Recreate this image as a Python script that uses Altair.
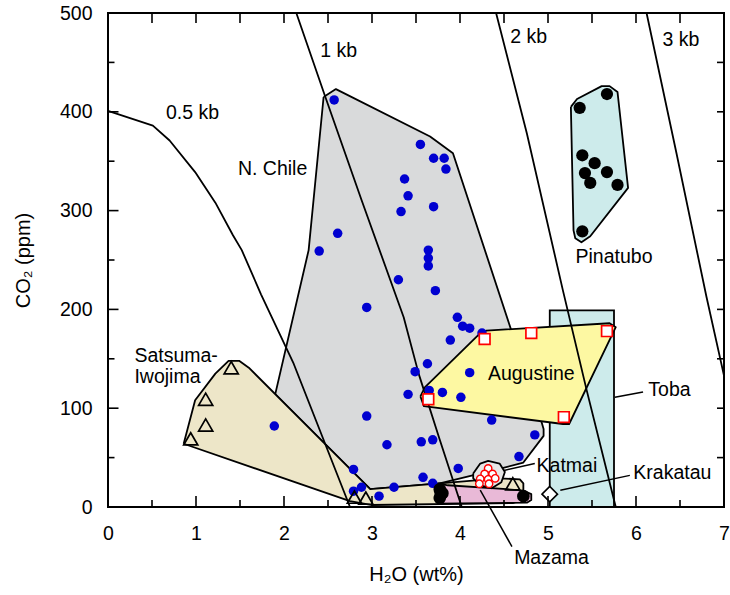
import altair as alt
import pandas as pd

FONT = "Liberation Sans"
W, H = 616, 494

# ---- isobars (H2O wt%, CO2 ppm) ----
iso_05kb = [(0.00, 401), (0.51, 386), (0.70, 371), (0.99, 339), (1.22, 308), (1.42, 275),
            (1.52, 260), (1.74, 215), (2.11, 145), (2.75, 0)]
iso_1kb = [(2.14, 500), (2.47, 415), (2.88, 311), (3.36, 192), (3.53, 135), (3.77, 68), (4.02, 0)]
iso_2kb = [(4.41, 500), (4.76, 378), (5.17, 219), (5.44, 118), (5.77, 0)]
iso_3kb = [(6.12, 500), (6.46, 358), (6.80, 213), (7.00, 133)]

# ---- field outlines ----
chile_poly = [(2.45, 415), (2.59, 423), (3.66, 375), (3.92, 358), (4.93, 85), (4.95, 79),
              (4.95, 72), (4.72, 45), (4.47, 39), (3.77, 24), (2.98, 18), (1.90, 114), (2.28, 260)]
satsuma_poly = [(0.86, 64), (0.99, 108), (1.22, 135), (1.37, 148), (1.49, 148), (1.60, 141),
                (2.98, 18), (3.77, 24), (4.45, 29), (4.68, 28), (4.72, 24), (4.72, 8),
                (4.60, 4), (3.00, 2), (2.75, 6)]
mazama_poly = [(3.72, 20), (3.76, 24), (3.86, 22), (4.53, 18), (4.72, 16.5), (4.81, 13),
               (4.81, 7), (4.76, 4.4), (3.75, 3.4), (3.72, 8.5)]
augustine_poly = [(3.55, 112), (3.60, 121), (4.23, 176), (4.30, 178.5), (5.70, 186), (5.77, 182),
                  (5.24, 84), (5.17, 84), (3.59, 102)]
katmai_poly = [(4.15, 34), (4.23, 44), (4.32, 46.6), (4.45, 44), (4.51, 35.5), (4.47, 25),
               (4.36, 19), (4.23, 22), (4.15, 29)]
pinatubo_poly = [(5.26, 405), (5.33, 413), (5.61, 426), (5.70, 426), (5.79, 420), (5.91, 323),
                 (5.48, 274), (5.38, 268), (5.31, 272), (5.29, 280)]
toba_box = {"x": 5.02, "x2": 5.75, "y": 0, "y2": 199}

# ---- samples ----
chile_pts = [(2.57, 412), (3.55, 367), (3.70, 353), (3.82, 353), (3.84, 342), (3.37, 332),
             (3.41, 315), (3.33, 299), (3.70, 304), (2.61, 277), (2.40, 259), (3.30, 230),
             (2.94, 202), (3.64, 260), (3.64, 252), (3.64, 244), (3.72, 219), (3.97, 192),
             (4.03, 183), (4.11, 181), (4.25, 176), (3.89, 169), (3.63, 145), (3.49, 137),
             (4.11, 136), (3.65, 118), (3.80, 116), (3.41, 114), (4.01, 111), (4.36, 88),
             (4.85, 73), (3.56, 66), (3.69, 68), (4.67, 51), (2.94, 92), (1.89, 82),
             (3.17, 63), (2.79, 38), (2.88, 20), (2.79, 16), (3.25, 20), (3.08, 11),
             (3.98, 39), (3.58, 30), (3.69, 24)]
pinatubo_pts = [(5.36, 404), (5.67, 418), (5.39, 356), (5.53, 348), (5.42, 338), (5.48, 328),
                (5.67, 339), (5.79, 326), (5.39, 279)]
mazama_pts = [(3.77, 18), (3.80, 14), (3.77, 9), (4.72, 11)]
satsuma_pts = [(1.40, 141), (1.11, 109), (1.11, 83), (0.94, 69), (2.80, 10), (2.93, 9), (4.60, 23.5)]
augustine_pts = [(3.64, 109), (4.28, 170), (4.81, 176), (5.67, 178), (5.18, 91)]
katmai_pts = [(4.32, 39), (4.28, 33.5), (4.37, 33.5), (4.23, 28.5), (4.32, 28), (4.40, 29),
              (4.22, 23.5), (4.33, 23.5)]
krakatau_pts = [(5.02, 13)]

# ---- leader lines ----
leaders = {
    "Toba": [(5.76, 111), (6.08, 116.5)],
    "Katmai": [(4.50, 37), (4.85, 44)],
    "Krakatau": [(5.14, 17), (5.93, 32)],
    "Mazama": [(4.23, 17), (4.59, -40)],
}

# ---- labels ----
labels_center = [("0.5 kb", 0.96, 399), ("1 kb", 2.62, 462), ("2 kb", 4.78, 476),
                 ("3 kb", 6.51, 473), ("N. Chile", 1.87, 342), ("Pinatubo", 5.75, 253),
                 ("Augustine", 4.81, 135), ("Mazama", 5.04, -52)]
labels_left = [("Satsuma-", 0.30, 153), ("Iwojima", 0.30, 132), ("Toba", 6.14, 118),
               ("Katmai", 4.87, 42), ("Krakatau", 5.97, 34)]

# ---- axis ticks ----
x_major = [0, 1, 2, 3, 4, 5, 6, 7]
x_minor = [0.5, 1.5, 2.5, 3.5, 4.5, 5.5, 6.5]
y_major = [0, 100, 200, 300, 400, 500]
y_minor = [50, 150, 250, 350, 450]

FS = 19.5
LW = 1.8

xscale = alt.Scale(domain=[0, 7], nice=False, zero=False)
yscale = alt.Scale(domain=[0, 500], nice=False, zero=False)
xaxis = alt.Axis(values=x_major, title="H₂O (wt%)", grid=False, ticks=False, tickSize=0,
                 domain=False, labelPadding=17, labelFontSize=FS, labelFont=FONT,
                 labelColor="black", titleFontSize=20, titleFont=FONT, titleFontWeight="normal",
                 titleColor="black", titlePadding=22, labelFlush=False)
yaxis = alt.Axis(values=y_major, title="CO₂ (ppm)", grid=False, ticks=False, tickSize=0,
                 domain=False, labelPadding=16, labelFontSize=FS, labelFont=FONT,
                 labelColor="black", titleFontSize=20, titleFont=FONT, titleFontWeight="normal",
                 titleColor="black", titlePadding=26, labelFlush=False)


def X(field="x"):
    return alt.X(field, type="quantitative", scale=xscale, axis=xaxis)


def Y(field="y"):
    return alt.Y(field, type="quantitative", scale=yscale, axis=yaxis)


def pts_df(pts):
    return pd.DataFrame({"x": [p[0] for p in pts], "y": [p[1] for p in pts]})


def path_df(pts, close=False):
    seq = list(pts) + ([pts[0]] if close else [])
    return pd.DataFrame({"x": [p[0] for p in seq], "y": [p[1] for p in seq],
                         "i": list(range(len(seq)))})


def polygon(pts, fill):
    return alt.Chart(path_df(pts, close=True)).mark_line(
        fill=fill, fillOpacity=1, stroke="black", strokeWidth=LW, strokeJoin="round"
    ).encode(x=X(), y=Y(), order=alt.Order("i:Q"))


def polyline(pts, width=LW):
    return alt.Chart(path_df(pts)).mark_line(
        stroke="black", strokeWidth=width, strokeJoin="round"
    ).encode(x=X(), y=Y(), order=alt.Order("i:Q"))


def symbols(pts, **kw):
    return alt.Chart(pts_df(pts)).mark_point(opacity=1, **kw).encode(x=X(), y=Y())


def text_layer(items, align):
    df = pd.DataFrame({"t": [a[0] for a in items], "x": [a[1] for a in items],
                       "y": [a[2] for a in items]})
    return alt.Chart(df).mark_text(align=align, baseline="middle", font=FONT, fontSize=FS,
                                   color="black").encode(x=X(), y=Y(), text="t:N")


def vticks(vals, y0, y1):
    df = pd.DataFrame({"x": vals})
    return alt.Chart(df).mark_rule(color="black", strokeWidth=1.6).encode(
        x=X(), y=alt.value(y0), y2=alt.value(y1))


def hticks(vals, x0, x1):
    df = pd.DataFrame({"y": vals})
    return alt.Chart(df).mark_rule(color="black", strokeWidth=1.6).encode(
        y=Y(), x=alt.value(x0), x2=alt.value(x1))


toba = alt.Chart(pd.DataFrame([toba_box])).mark_rect(
    fill="#cdebeb", stroke="black", strokeWidth=LW
).encode(x=X("x"), x2="x2", y=Y("y"), y2="y2")

layers = [
    toba,
    polygon(chile_poly, "#d9dadb"),
    polygon(satsuma_poly, "#ede6c8"),
    polygon(mazama_poly, "#e9b9d7"),
    polygon(augustine_poly, "#fdf8a2"),
    polygon(katmai_poly, "#e6e6e6"),
    polygon(pinatubo_poly, "#cdebeb"),
    polyline(iso_05kb), polyline(iso_1kb), polyline(iso_2kb), polyline(iso_3kb),
]
layers += [polyline(v, 1.5) for v in leaders.values()]
layers += [
    symbols(chile_pts, shape="circle", size=90, filled=True, color="#0000d0"),
    symbols(satsuma_pts, shape="triangle-up", size=200, filled=False, color="black", strokeWidth=1.7),
    symbols(pinatubo_pts, shape="circle", size=150, filled=True, color="black"),
    symbols(mazama_pts, shape="circle", size=160, filled=True, color="black"),
    symbols(augustine_pts, shape="square", size=115, filled=True, color="white", stroke="#ff0000", strokeWidth=1.7),
    symbols(katmai_pts, shape="circle", size=55, filled=True, color="white", stroke="#ff0000", strokeWidth=1.4),
    symbols(krakatau_pts, shape="diamond", size=240, filled=True, color="white", stroke="black", strokeWidth=1.6),
    text_layer(labels_center, "center"),
    text_layer(labels_left, "left"),
    # inward ticks on all four sides
    vticks(x_major, H, H - 11), vticks(x_minor, H, H - 7),
    vticks(x_major + x_minor, 0, 10),
    hticks(y_major, 0, 10.5), hticks(y_minor, 0, 6.5),
    hticks(y_major + y_minor, W, W - 7),
]

chart = alt.layer(*layers).properties(
    width=W, height=H,
    autosize=alt.AutoSizeParams(type="none"),
    padding={"left": 108, "top": 13, "right": 6, "bottom": 88},
    background="white",
).configure_view(stroke="black", strokeWidth=2)

chart.save("out.html", embed_options={"renderer": "svg", "actions": False})
